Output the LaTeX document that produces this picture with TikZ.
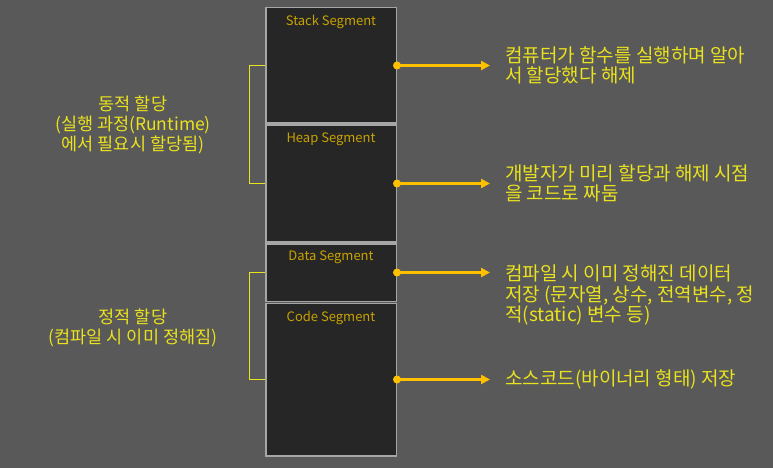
\documentclass[tikz,border=0pt]{standalone}
\usepackage{fontspec}
\setmainfont{Noto Sans CJK KR}
\usetikzlibrary{positioning,arrows.meta}

\definecolor{bgcol}{HTML}{595959}
\definecolor{boxfill}{HTML}{262626}
\definecolor{boxline}{HTML}{A6A6A6}
\definecolor{seggold}{HTML}{C8A200}
\definecolor{txtyellow}{HTML}{EAE21E}
\definecolor{arrowcol}{HTML}{FFC000}

\begin{document}
\begin{tikzpicture}[x=1pt,y=-1pt,
  seg/.style={draw=boxline,fill=boxfill,line width=1.5pt,minimum width=130.5pt,inner sep=0pt},
  seglabel/.style={text=seggold,font=\fontsize{13}{15}\selectfont,inner sep=0pt},
  desc/.style={text=txtyellow,font=\fontsize{19}{20.5}\selectfont,align=left,inner sep=0pt},
  side/.style={text=txtyellow,font=\fontsize{17.5}{20}\selectfont,align=center,inner sep=0pt},
  dot/.style={circle,fill=arrowcol,inner sep=0pt,minimum size=8pt},
  pointer/.style={arrowcol,line width=2.6pt,-{Triangle[length=9pt,width=9pt]}},
  bracket/.style={txtyellow,line width=1pt}]

\fill[bgcol] (0,0) rectangle (773,468);
\useasboundingbox (0,0) rectangle (773,468);

% memory column
\node[seg,minimum height=115.5pt] (stack) at (331,65.5) {};
\node[seg,minimum height=116.5pt,below=0.5pt of stack] (heap) {};
\node[seg,minimum height=57.5pt,below=0.5pt of heap] (data) {};
\node[seg,minimum height=152.5pt,below=0.5pt of data] (code) {};

\node[seglabel,below=8pt of stack.north] (stack-l) {Stack Segment};
\node[seglabel,below=8pt of heap.north] (heap-l) {Heap Segment};
\node[seglabel,below=8pt of data.north] (data-l) {Data Segment};
\node[seglabel,below=8pt of code.north] (code-l) {Code Segment};

% pointers
\coordinate (tip) at (490,0);
\foreach \s in {stack,heap,data,code}
{
  \node[dot] (\s-dot) at (\s.east) {};
  \coordinate (\s-end) at (\s-dot -| tip);
  \draw[pointer] (\s-dot.center) -- (\s-end);
}

\node[desc,right=15pt of stack-end] (stack-d) {컴퓨터가 함수를 실행하며 알아\\서 할당했다 해제};
\node[desc,right=15pt of heap-end] (heap-d) {개발자가 미리 할당과 해제 시점\\을 코드로 짜둠};
\node[desc,right=15pt of data-end,yshift=-23pt] (data-d) {컴파일 시 이미 정해진 데이터\\저장 (문자열, 상수, 전역변수, 정\\적(static) 변수 등)};
\node[desc,right=15pt of code-end] (code-d) {소스코드(바이너리 형태) 저장};

% allocation groups
\draw[bracket] (stack.west) -- ++(-16,0) |- (heap.west);
\draw[bracket] (data.west) -- ++(-16,0) |- (code-dot -| code.west);

\node[side] (dynamic) at (133,125) {동적 할당\\(실행 과정(Runtime)\\에서 필요시 할당됨)};
\node[side] (static) at (133,328) {정적 할당\\(컴파일 시 이미 정해짐)};
\end{tikzpicture}
\end{document}
